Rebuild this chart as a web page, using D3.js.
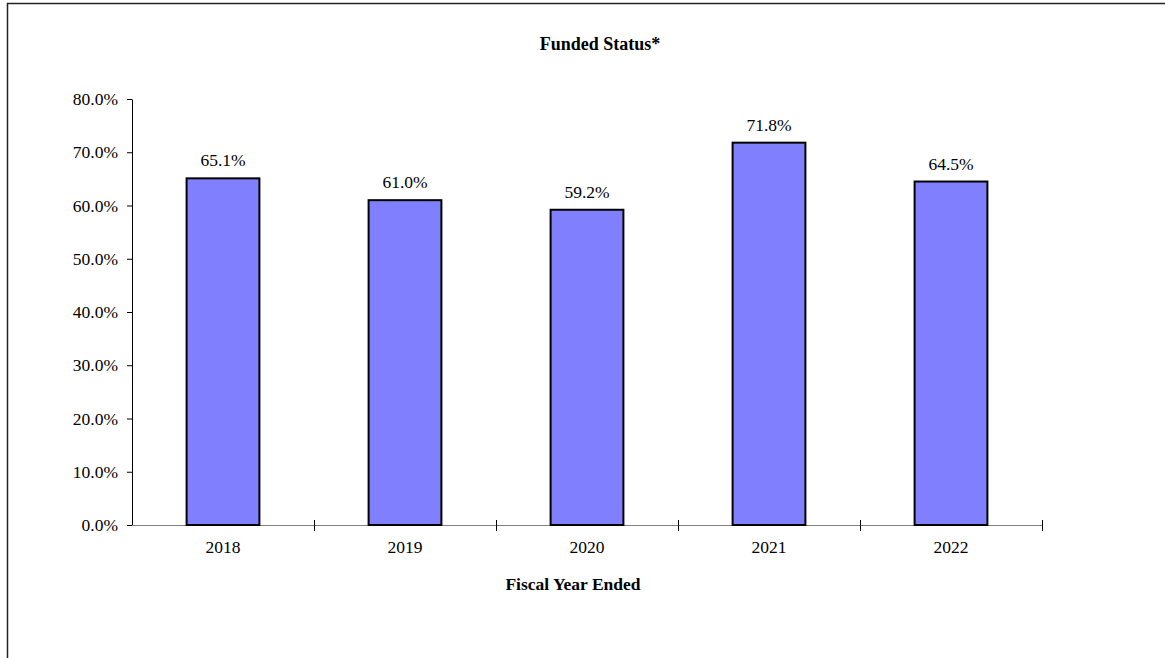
<!DOCTYPE html>
<meta charset="utf-8">
<style>
body {
  background: #fff;
  margin: 0;
  padding: 0;
}
text {
  font-family: 'Liberation Serif', 'Times New Roman', serif;
  fill: #000;
}
.title {
  font-size: 18px;
  font-weight: bold;
  text-anchor: middle;
}
.axis-title {
  font-size: 17.5px;
  font-weight: bold;
  text-anchor: middle;
}
.label {
  font-size: 17.5px;
  text-anchor: middle;
}
.bar {
  fill: #8080ff;
  stroke: #000;
  stroke-width: 2px;
}
.axis path {
  stroke: #808080;
}
.axis line {
  stroke: #000;
}
.axis text {
  font-family: 'Liberation Serif', 'Times New Roman', serif;
  font-size: 17.5px;
}
</style>
<body>
<script src="https://d3js.org/d3.v7.min.js"></script>
<script>
var years = ["2018", "2019", "2020", "2021", "2022"];
var funded = [65.1, 61.0, 59.2, 71.8, 64.5];
var yTicks = [0, 10, 20, 30, 40, 50, 60, 70, 80];

var width = 1165,
    height = 658;

var svg = d3.select("body").append("svg")
    .attr("width", width)
    .attr("height", height)
    .style("display", "block");

// frame (only left and top show in the picture)
svg.append("path")
    .attr("d", "M7.5," + height + "V3.5H" + width)
    .attr("fill", "none")
    .attr("stroke", "#222")
    .attr("stroke-width", 1.5);

var x = d3.scaleBand()
    .domain(years)
    .range([132, 1042])
    .paddingInner(0.6)
    .paddingOuter(0.3);

var y = d3.scaleLinear()
    .domain([0, 80])
    .range([525, 99]);

svg.append("text")
    .attr("class", "title")
    .attr("x", 600)
    .attr("y", 50)
    .text("Funded Status*");

// y axis
var yAxis = svg.append("g")
    .attr("class", "axis")
    .attr("transform", "translate(132,0)")
    .call(d3.axisLeft(y).tickValues(yTicks).tickSize(5).tickSizeOuter(0)
      .tickFormat(function(d) { return d.toFixed(1) + "%"; }));
yAxis.select(".domain").style("stroke", "#000");
yAxis.selectAll("text").attr("x", -14);

// x axis: ticks sit between the categories and cross the line
var xEdges = d3.scaleLinear().domain([0, years.length]).range([132, 1042]);
var xAxis = svg.append("g").attr("class", "axis");
xAxis.append("path")
    .attr("d", "M132,525.5H" + xEdges(years.length));
xAxis.selectAll("line.tick")
    .data(d3.range(1, years.length + 1))
    .join("line")
    .attr("class", "tick")
    .attr("x1", function(d) { return Math.round(xEdges(d)) + 0.5; })
    .attr("x2", function(d) { return Math.round(xEdges(d)) + 0.5; })
    .attr("y1", 520)
    .attr("y2", 531);
xAxis.selectAll("text")
    .data(years)
    .join("text")
    .attr("x", function(d) { return x(d) + x.bandwidth() / 2; })
    .attr("y", 553)
    .attr("text-anchor", "middle")
    .text(function(d) { return d; });

svg.selectAll("rect.bar")
    .data(funded)
    .join("rect")
    .attr("class", "bar")
    .attr("x", function(d, i) { return x(years[i]); })
    .attr("y", function(d) { return y(d); })
    .attr("width", x.bandwidth())
    .attr("height", function(d) { return y(0) - y(d); });

svg.selectAll("text.label")
    .data(funded)
    .join("text")
    .attr("class", "label")
    .attr("x", function(d, i) { return x(years[i]) + x.bandwidth() / 2; })
    .attr("y", function(d) { return y(d) - 12; })
    .text(function(d) { return d.toFixed(1) + "%"; });

svg.append("text")
    .attr("class", "axis-title")
    .attr("x", 573)
    .attr("y", 590)
    .text("Fiscal Year Ended");
</script>
</body>
